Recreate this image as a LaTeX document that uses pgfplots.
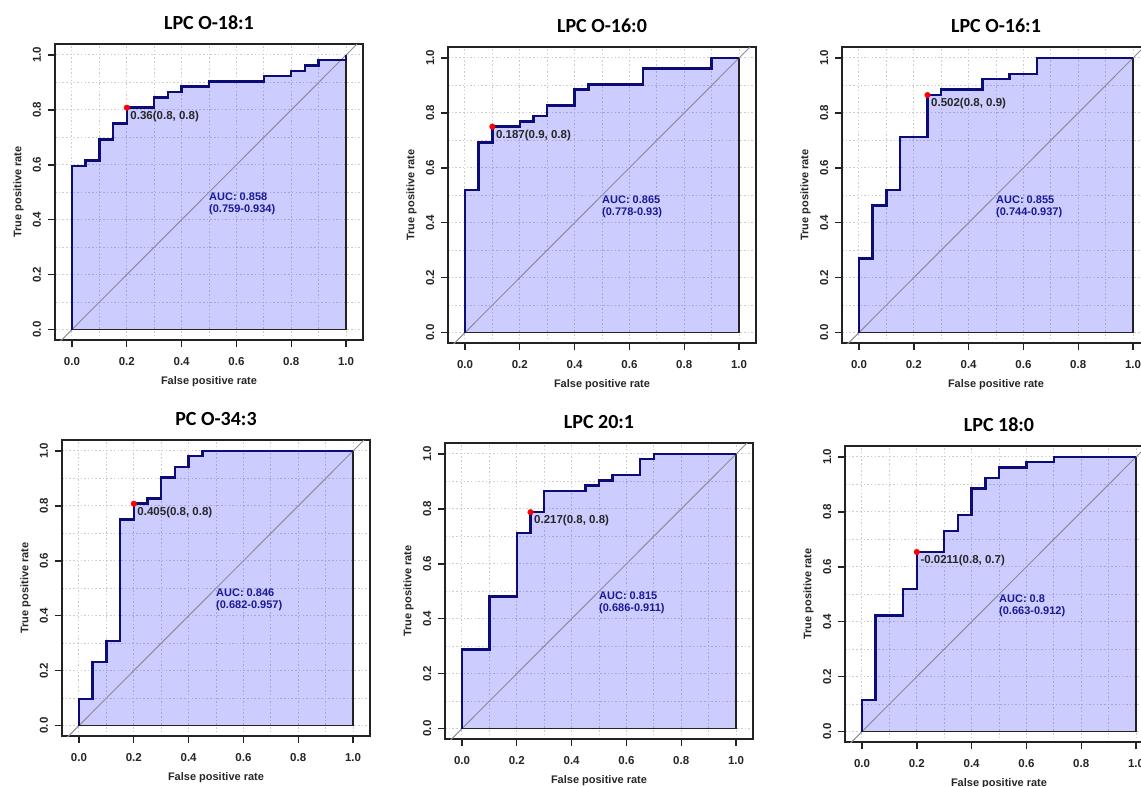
\documentclass[border=0pt]{standalone}
\usepackage{fontspec}
\setmainfont{Liberation Sans}
\newfontfamily\titlefont{Carlito}
\usepackage{pgfplots}
\usepackage{pgfplotstable}
\pgfplotsset{compat=1.18}

\definecolor{rocnavy}{RGB}{12,12,120}
\definecolor{aucblue}{RGB}{25,25,150}
\definecolor{gridc}{RGB}{205,205,205}
\definecolor{diagc}{RGB}{140,140,155}
\definecolor{boxc}{RGB}{35,35,35}

% ROC step points (FPR, TPR) after each jump
\pgfplotstableread{
x y
0 0
0 0.596
0.05 0.615
0.10 0.692
0.15 0.750
0.20 0.808
0.30 0.846
0.35 0.865
0.40 0.885
0.50 0.904
0.70 0.923
0.80 0.942
0.85 0.962
0.90 0.981
1.00 1.000
}\rocA
\pgfplotstableread{
x y
0 0
0 0.519
0.05 0.692
0.10 0.750
0.20 0.769
0.25 0.788
0.30 0.827
0.40 0.885
0.45 0.904
0.65 0.962
0.90 1.000
1.00 1.000
}\rocB
\pgfplotstableread{
x y
0 0
0 0.269
0.05 0.462
0.10 0.519
0.15 0.712
0.25 0.865
0.30 0.885
0.45 0.923
0.55 0.942
0.65 1.000
1.00 1.000
}\rocC
\pgfplotstableread{
x y
0 0
0 0.096
0.05 0.231
0.10 0.308
0.15 0.750
0.20 0.808
0.25 0.827
0.30 0.904
0.35 0.942
0.40 0.981
0.45 1.000
1.00 1.000
}\rocD
\pgfplotstableread{
x y
0 0
0 0.288
0.10 0.481
0.20 0.712
0.25 0.788
0.30 0.865
0.45 0.885
0.50 0.904
0.55 0.923
0.65 0.981
0.70 1.000
1.00 1.000
}\rocE
\pgfplotstableread{
x y
0 0
0 0.115
0.05 0.423
0.15 0.519
0.20 0.654
0.30 0.731
0.35 0.788
0.40 0.885
0.45 0.923
0.50 0.962
0.60 0.981
0.70 1.000
1.00 1.000
}\rocF

\tikzset{
  thrlab/.style={anchor=north west, inner sep=0pt, xshift=3.5pt, yshift=-3pt, font=\bfseries\fontsize{11.5}{14}\selectfont, text=black!85},
  auclab/.style={anchor=north west, inner sep=0pt, align=left, text=aucblue, font=\bfseries\fontsize{11}{12.5}\selectfont},
}
\pgfplotsset{
  rocaxis/.style={
    scale only axis, width=308pt, height=296pt,
    xmin=-0.062, xmax=1.062, ymin=-0.038, ymax=1.04,
    xtick={0,0.2,0.4,0.6,0.8,1},
    ytick={0,0.2,0.4,0.6,0.8,1},
    xticklabels={0.0,0.2,0.4,0.6,0.8,1.0},
    yticklabels={0.0,0.2,0.4,0.6,0.8,1.0},
    minor xtick={0.1,0.3,0.5,0.7,0.9},
    minor ytick={0.1,0.3,0.5,0.7,0.9},
    grid=both,
    major grid style={gridc, dash pattern=on 1.5pt off 2.2pt, line width=1pt},
    minor grid style={gridc, dash pattern=on 1.5pt off 2.2pt, line width=1pt},
    tick pos=left, tick align=outside,
    major tick length=7pt, minor tick length=0pt,
    every tick/.style={boxc, line width=1.4pt},
    axis line style={boxc, line width=1.5pt},
    xticklabel shift=10pt, yticklabel shift=7pt,
    xticklabel style={font=\bfseries\fontsize{11.5}{14}\selectfont, text=black!85, anchor=north, inner sep=0pt},
    yticklabel style={font=\bfseries\fontsize{11.5}{14}\selectfont, text=black!85, rotate=90, anchor=base, inner sep=0pt},
    xlabel={False positive rate}, ylabel={True positive rate},
    xlabel style={at={(axis description cs:0.5,0)}, anchor=base, yshift=-44pt, font=\bfseries\fontsize{11}{14}\selectfont, text=black!85},
    ylabel style={at={(axis description cs:-0.109,0.5)}, anchor=base, font=\bfseries\fontsize{11}{14}\selectfont, text=black!85},
    title style={at={(axis description cs:0.5,1)}, anchor=base, yshift=8.5pt, font=\titlefont\bfseries\fontsize{20}{24}\selectfont},
  },
  rocfill/.style={const plot, fill=blue, fill opacity=0.2, draw=boxc, line width=1.3pt},
  roccurve/.style={const plot, rocnavy, line width=2.5pt},
  rocdiag/.style={diagc, line width=1pt},
  rocdot/.style={only marks, mark=*, mark size=2.8pt, color=red},
}

\begin{document}
\begin{tikzpicture}
\path[use as bounding box, clip] (0pt,0pt) rectangle (1141pt,-787pt);

\begin{axis}[rocaxis, at={(55pt,-340pt)}, anchor=south west, title={LPC O-18:1}]
\addplot[rocfill] table {\rocA} \closedcycle;
\addplot[rocdiag] coordinates {(-0.1,-0.1) (1.1,1.1)};
\addplot[roccurve] table {\rocA};
\addplot[rocdot] coordinates {(0.2,0.808)};
\node[thrlab] at (axis cs:0.2,0.808) {0.36(0.8, 0.8)};
\node[auclab] at (axis cs:0.5,0.5) {AUC: 0.858\\(0.759-0.934)};
\end{axis}

\begin{axis}[rocaxis, at={(448pt,-343pt)}, anchor=south west, title={LPC O-16:0}]
\addplot[rocfill] table {\rocB} \closedcycle;
\addplot[rocdiag] coordinates {(-0.1,-0.1) (1.1,1.1)};
\addplot[roccurve] table {\rocB};
\addplot[rocdot] coordinates {(0.1,0.75)};
\node[thrlab] at (axis cs:0.1,0.75) {0.187(0.9, 0.8)};
\node[auclab] at (axis cs:0.5,0.5) {AUC: 0.865\\(0.778-0.93)};
\end{axis}

\begin{axis}[rocaxis, at={(842pt,-343pt)}, anchor=south west, title={LPC O-16:1}]
\addplot[rocfill] table {\rocC} \closedcycle;
\addplot[rocdiag] coordinates {(-0.1,-0.1) (1.1,1.1)};
\addplot[roccurve] table {\rocC};
\addplot[rocdot] coordinates {(0.25,0.865)};
\node[thrlab] at (axis cs:0.25,0.865) {0.502(0.8, 0.9)};
\node[auclab] at (axis cs:0.5,0.5) {AUC: 0.855\\(0.744-0.937)};
\end{axis}

\begin{axis}[rocaxis, at={(62pt,-736pt)}, anchor=south west, title={PC O-34:3}]
\addplot[rocfill] table {\rocD} \closedcycle;
\addplot[rocdiag] coordinates {(-0.1,-0.1) (1.1,1.1)};
\addplot[roccurve] table {\rocD};
\addplot[rocdot] coordinates {(0.2,0.808)};
\node[thrlab] at (axis cs:0.2,0.808) {0.405(0.8, 0.8)};
\node[auclab] at (axis cs:0.5,0.5) {AUC: 0.846\\(0.682-0.957)};
\end{axis}

\begin{axis}[rocaxis, at={(445pt,-739pt)}, anchor=south west, title={LPC 20:1}]
\addplot[rocfill] table {\rocE} \closedcycle;
\addplot[rocdiag] coordinates {(-0.1,-0.1) (1.1,1.1)};
\addplot[roccurve] table {\rocE};
\addplot[rocdot] coordinates {(0.25,0.788)};
\node[thrlab] at (axis cs:0.25,0.788) {0.217(0.8, 0.8)};
\node[auclab] at (axis cs:0.5,0.5) {AUC: 0.815\\(0.686-0.911)};
\end{axis}

\begin{axis}[rocaxis, at={(845pt,-742pt)}, anchor=south west, title={LPC 18:0}]
\addplot[rocfill] table {\rocF} \closedcycle;
\addplot[rocdiag] coordinates {(-0.1,-0.1) (1.1,1.1)};
\addplot[roccurve] table {\rocF};
\addplot[rocdot] coordinates {(0.2,0.654)};
\node[thrlab] at (axis cs:0.2,0.654) {-0.0211(0.8, 0.7)};
\node[auclab] at (axis cs:0.5,0.5) {AUC: 0.8\\(0.663-0.912)};
\end{axis}
\end{tikzpicture}
\end{document}
